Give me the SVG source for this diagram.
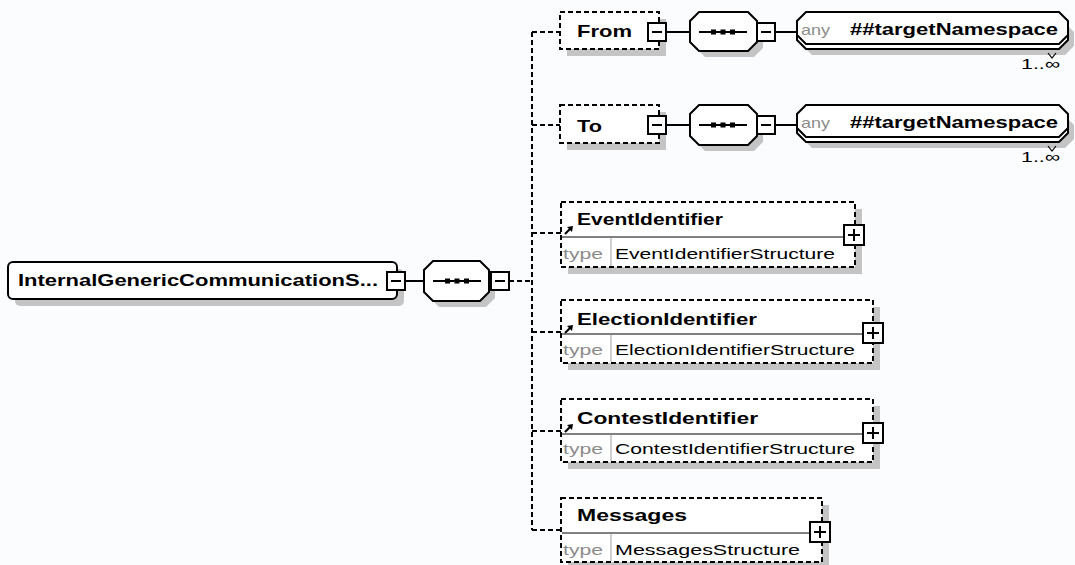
<svg xmlns="http://www.w3.org/2000/svg" width="1075" height="565" viewBox="0 0 1075 565">
  <defs>
    <style>
      .bg { fill: #fafcfe; }
      .solid { fill: #fff; stroke: #000; stroke-width: 2; }
      .dash { fill: #fff; stroke: #000; stroke-width: 2; stroke-dasharray: 5 3; }
      .shadow { fill: #c4c4c4; stroke: none; }
      .conn { fill: none; stroke: #000; stroke-width: 2; }
      .dconn { fill: none; stroke: #000; stroke-width: 2; stroke-dasharray: 5 3; }
      .sep { fill: none; stroke: #808080; stroke-width: 2; }
      .sepv { fill: none; stroke: #a0a0a0; stroke-width: 1; }
      .title { font-family: "Liberation Sans", Arial, sans-serif; font-weight: bold; font-size: 17px; fill: #000; }
      .plain { font-family: "Liberation Sans", Arial, sans-serif; font-size: 15px; fill: #000; }
      .gray { font-family: "Liberation Sans", Arial, sans-serif; font-size: 15px; fill: #8c8c8c; }
    </style>
    <!-- collapse (minus) and expand (plus) toggles -->
    <g id="minus">
      <rect x="0" y="0" width="18" height="18" class="solid"/>
      <line x1="4" y1="9" x2="14" y2="9" stroke="#000" stroke-width="2"/>
    </g>
    <g id="plus">
      <rect x="0" y="0" width="20" height="20" class="solid"/>
      <line x1="4" y1="10" x2="16" y2="10" stroke="#000" stroke-width="2"/>
      <line x1="10" y1="4" x2="10" y2="16" stroke="#000" stroke-width="2"/>
    </g>
    <!-- sequence compositor glyph centred on 0,0 -->
    <g id="seqmark">
      <line x1="-24" y1="0" x2="24" y2="0" stroke="#000" stroke-width="2"/>
      <rect x="-12" y="-2.5" width="5" height="5" fill="#000"/>
      <rect x="-2.5" y="-2.5" width="5" height="5" fill="#000"/>
      <rect x="7" y="-2.5" width="5" height="5" fill="#000"/>
    </g>
    <!-- reference arrow shown before referenced element names -->
    <g id="refarrow">
      <line x1="0" y1="8" x2="5" y2="3" stroke="#000" stroke-width="2.2"/>
      <polygon points="2,1 8,0 7,6" fill="#000"/>
    </g>
  </defs>

  <rect class="bg" x="0" y="0" width="1075" height="565"/>

  <!-- connectors -->
  <g id="connectors">
    <line class="conn" x1="405" y1="281" x2="424" y2="281"/>
    <path class="dconn" d="M509,281 H532"/>
    <path class="dconn" d="M532,32 V530"/>
    <path class="dconn" d="M532,32 H560"/>
    <path class="dconn" d="M532,125 H560"/>
    <path class="dconn" d="M532,233 H561"/>
    <path class="dconn" d="M532,332 H561"/>
    <path class="dconn" d="M532,431 H561"/>
    <path class="dconn" d="M532,530 H561"/>
    <!-- From branch -->
    <line class="conn" x1="666" y1="32" x2="690" y2="32"/>
    <line class="conn" x1="775" y1="32" x2="797" y2="32"/>
    <!-- To branch -->
    <line class="conn" x1="666" y1="125" x2="690" y2="125"/>
    <line class="conn" x1="775" y1="125" x2="797" y2="125"/>
  </g>

  <!-- root element -->
  <g id="node-root">
    <rect class="shadow" x="15" y="269" width="389" height="37" rx="5"/>
    <rect class="solid" x="8" y="262" width="389" height="37" rx="5"/>
    <text class="title" x="18" y="286" textLength="360" lengthAdjust="spacingAndGlyphs">InternalGenericCommunicationS...</text>
    <use href="#minus" x="387" y="272"/>
  </g>

  <!-- root sequence -->
  <g id="node-seq-root">
    <path class="shadow" d="M439,267 H486 L495,276 V298 L486,307 H439 L430,298 V276 Z"/>
    <path class="solid" d="M433,261 H480 L489,270 V292 L480,301 H433 L424,292 V270 Z"/>
    <use href="#seqmark" x="457" y="281"/>
    <use href="#minus" x="491" y="272"/>
  </g>

  <!-- From -->
  <g id="node-from">
    <rect class="shadow" x="567" y="19" width="99" height="37"/>
    <rect class="dash" x="560" y="12" width="99" height="37"/>
    <text class="title" x="577" y="37" textLength="55" lengthAdjust="spacingAndGlyphs">From</text>
    <use href="#minus" x="648" y="23"/>
  </g>
  <g id="node-seq-from">
    <path class="shadow" d="M705,18 H754 L763,27 V48 L754,57 H705 L696,48 V27 Z"/>
    <path class="solid" d="M699,12 H748 L757,21 V42 L748,51 H699 L690,42 V21 Z"/>
    <use href="#seqmark" x="723" y="32"/>
    <use href="#minus" x="757" y="23"/>
  </g>
  <g id="node-any-from">
    <path class="shadow" d="M812,23 H1065 L1074,32 V46 L1065,55 H812 L803,46 V32 Z"/>
    <path class="solid" d="M806,17 H1059 L1068,26 V40 L1059,49 H806 L797,40 V26 Z"/>
    <path class="solid" d="M806,12 H1059 L1068,21 V35 L1059,44 H806 L797,35 V21 Z"/>
    <polyline points="1048,53 1052,58 1056,53" fill="none" stroke="#000" stroke-width="1.2"/>
    <text class="gray" x="801" y="35" textLength="29" lengthAdjust="spacingAndGlyphs">any</text>
    <text class="title" x="850" y="35" textLength="208" lengthAdjust="spacingAndGlyphs">##targetNamespace</text>
    <text class="plain" x="1021" y="69" textLength="39" lengthAdjust="spacingAndGlyphs">1..∞</text>
  </g>

  <!-- To -->
  <g id="node-to">
    <rect class="shadow" x="567" y="112" width="99" height="38"/>
    <rect class="dash" x="560" y="105" width="99" height="38"/>
    <text class="title" x="577" y="132" textLength="25" lengthAdjust="spacingAndGlyphs">To</text>
    <use href="#minus" x="648" y="116"/>
  </g>
  <g id="node-seq-to">
    <path class="shadow" d="M705,111 H754 L763,120 V142 L754,151 H705 L696,142 V120 Z"/>
    <path class="solid" d="M699,105 H748 L757,114 V136 L748,145 H699 L690,136 V114 Z"/>
    <use href="#seqmark" x="723" y="125"/>
    <use href="#minus" x="757" y="116"/>
  </g>
  <g id="node-any-to">
    <path class="shadow" d="M812,116 H1065 L1074,125 V139 L1065,148 H812 L803,139 V125 Z"/>
    <path class="solid" d="M806,110 H1059 L1068,119 V133 L1059,142 H806 L797,133 V119 Z"/>
    <path class="solid" d="M806,105 H1059 L1068,114 V128 L1059,137 H806 L797,128 V114 Z"/>
    <polyline points="1048,146 1052,151 1056,146" fill="none" stroke="#000" stroke-width="1.2"/>
    <text class="gray" x="801" y="128" textLength="29" lengthAdjust="spacingAndGlyphs">any</text>
    <text class="title" x="850" y="128" textLength="208" lengthAdjust="spacingAndGlyphs">##targetNamespace</text>
    <text class="plain" x="1021" y="162" textLength="39" lengthAdjust="spacingAndGlyphs">1..∞</text>
  </g>

  <!-- EventIdentifier -->
  <g id="node-eventidentifier">
    <rect class="shadow" x="568" y="209" width="294" height="65"/>
    <rect class="dash" x="561" y="202" width="294" height="65"/>
    <line class="sep" x1="562" y1="237" x2="845" y2="237"/>
    <line class="sepv" x1="611" y1="238" x2="611" y2="266"/>
    <use href="#refarrow" x="565" y="226"/>
    <text class="title" x="577" y="225" textLength="146" lengthAdjust="spacingAndGlyphs">EventIdentifier</text>
    <text class="gray" x="563" y="259" textLength="40" lengthAdjust="spacingAndGlyphs">type</text>
    <text class="plain" x="615" y="259" textLength="220" lengthAdjust="spacingAndGlyphs">EventIdentifierStructure</text>
    <use href="#plus" x="844" y="225"/>
  </g>

  <!-- ElectionIdentifier -->
  <g id="node-electionidentifier">
    <rect class="shadow" x="568" y="307" width="312" height="63"/>
    <rect class="dash" x="561" y="300" width="312" height="63"/>
    <line class="sep" x1="562" y1="334" x2="863" y2="334"/>
    <line class="sepv" x1="611" y1="335" x2="611" y2="362"/>
    <use href="#refarrow" x="565" y="325"/>
    <text class="title" x="577" y="325" textLength="180" lengthAdjust="spacingAndGlyphs">ElectionIdentifier</text>
    <text class="gray" x="563" y="355" textLength="40" lengthAdjust="spacingAndGlyphs">type</text>
    <text class="plain" x="615" y="355" textLength="240" lengthAdjust="spacingAndGlyphs">ElectionIdentifierStructure</text>
    <use href="#plus" x="863" y="323"/>
  </g>

  <!-- ContestIdentifier -->
  <g id="node-contestidentifier">
    <rect class="shadow" x="568" y="406" width="312" height="63"/>
    <rect class="dash" x="561" y="399" width="312" height="63"/>
    <line class="sep" x1="562" y1="434" x2="863" y2="434"/>
    <line class="sepv" x1="611" y1="435" x2="611" y2="461"/>
    <use href="#refarrow" x="565" y="424"/>
    <text class="title" x="577" y="424" textLength="181" lengthAdjust="spacingAndGlyphs">ContestIdentifier</text>
    <text class="gray" x="563" y="454" textLength="40" lengthAdjust="spacingAndGlyphs">type</text>
    <text class="plain" x="615" y="454" textLength="240" lengthAdjust="spacingAndGlyphs">ContestIdentifierStructure</text>
    <use href="#plus" x="863" y="423"/>
  </g>

  <!-- Messages -->
  <g id="node-messages">
    <rect class="shadow" x="568" y="505" width="261" height="64"/>
    <rect class="dash" x="561" y="498" width="261" height="64"/>
    <line class="sep" x1="562" y1="533" x2="811" y2="533"/>
    <line class="sepv" x1="611" y1="534" x2="611" y2="561"/>
    <text class="title" x="577" y="521" textLength="110" lengthAdjust="spacingAndGlyphs">Messages</text>
    <text class="gray" x="563" y="555" textLength="40" lengthAdjust="spacingAndGlyphs">type</text>
    <text class="plain" x="615" y="555" textLength="185" lengthAdjust="spacingAndGlyphs">MessagesStructure</text>
    <use href="#plus" x="810" y="522"/>
  </g>
</svg>
